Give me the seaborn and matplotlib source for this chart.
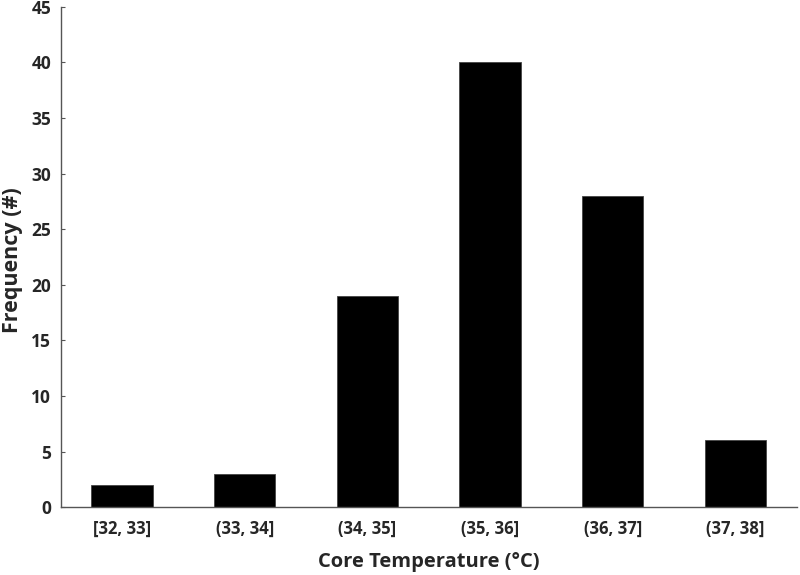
import matplotlib.pyplot as plt
import seaborn as sns
import pandas as pd

# histogram bins of core temperature
bins = ["[32, 33]", "(33, 34]", "(34, 35]", "(35, 36]", "(36, 37]", "(37, 38]"]
counts = [2, 3, 19, 40, 28, 6]
y_ticks = [0, 5, 10, 15, 20, 25, 30, 35, 40, 45]

data = pd.DataFrame({"bin": bins, "count": counts})

sns.set_style("white")
plt.rcParams['font.family'] = ['Open Sans', 'DejaVu Sans']

fig = plt.figure(figsize=(8.0, 5.75), dpi=100)
ax = fig.add_axes([0.076, 0.118, 0.92, 0.87])

sns.barplot(data=data, x="bin", y="count", color="black", width=0.5,
            saturation=1, edgecolor="#444444", linewidth=0.6, ax=ax)

ax.set_xlim(-0.5, 5.5)
ax.set_ylim(0, 45)
ax.set_yticks(y_ticks)
ax.set_yticklabels([str(t) for t in y_ticks], fontsize=12.5, fontweight="bold")
ax.set_xticks(range(len(bins)))
ax.set_xticklabels(bins, fontsize=12, fontweight="bold")

ax.tick_params(axis="y", direction="in", length=3, width=0.8, color="#555555", pad=7, left=True)
ax.tick_params(axis="x", length=0, pad=9)

for side in ["top", "right"]:
    ax.spines[side].set_visible(False)
for side in ["left", "bottom"]:
    ax.spines[side].set_color("#555555")
    ax.spines[side].set_linewidth(1.0)

ax.set_xlabel("Core Temperature (°C)", fontsize=14.5, fontweight="bold", va="center")
ax.set_ylabel("Frequency (#)", fontsize=15.5, fontweight="bold", va="center")
ax.xaxis.set_label_coords(0.5, -0.11)
ax.yaxis.set_label_coords(-0.065, 0.494)

plt.savefig("out.png", dpi=100)
